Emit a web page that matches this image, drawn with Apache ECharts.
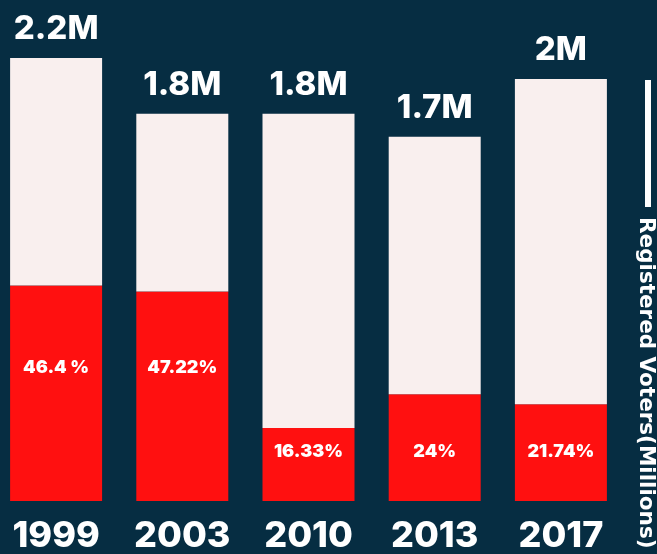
<!DOCTYPE html>
<html><head><meta charset="utf-8">
<script src="https://cdn.jsdelivr.net/npm/echarts@6/dist/echarts.min.js"></script>
<style>html,body{margin:0;padding:0;background:#062d42;overflow:hidden}#c{position:relative;left:-7px;width:664px;height:554px}</style>
</head><body><div id="c"></div>
<script>
// Data (millions)
const years = ['1999', '2003', '2010', '2013', '2017'];
const registeredVoters = [2.2, 1.923, 1.923, 1.809, 2.096];   // bar length
const turnoutVoters = [1.07, 1.041, 0.362, 0.53, 0.481];      // red segment length
const registeredLabels = ['2.2M', '1.8M', '1.8M', '1.7M', '2M'];
const turnoutLabels = ['46.4 %', '47.22%', '16.33%', '24%', '21.74%'];

// styling: how far above the baseline each percent label sits (px)
const pctLift = [124, 124, 40, 40, 40];

const remaining = registeredVoters.map((v, i) => +(v - turnoutVoters[i]).toFixed(3));
const FONT = 'Inter';

const chart = echarts.init(document.getElementById('c'));
chart.setOption({
  backgroundColor: '#062d42',
  animation: false,
  grid: { left: 0, right: 33, top: 58, bottom: 52 },
  xAxis: {
    type: 'category', data: years,
    axisLine: { show: false }, axisTick: { show: false },
    axisLabel: { interval: 0, color: '#ffffff', fontFamily: FONT, fontWeight: 800, fontSize: 36, margin: 17 }
  },
  yAxis: { type: 'value', min: 0, max: 2.2, show: false, splitLine: { show: false } },
  series: [
    {
      type: 'bar', stack: 'v', barWidth: 92,
      itemStyle: { color: '#ff1010' },
      data: turnoutVoters.map((v, i) => ({
        value: v,
        label: {
          show: true, position: 'insideBottom', distance: pctLift[i],
          formatter: turnoutLabels[i],
          color: '#ffffff', fontFamily: FONT, fontWeight: 900, fontSize: 18
        }
      }))
    },
    {
      type: 'bar', stack: 'v', barWidth: 92,
      itemStyle: { color: '#f9efee' },
      data: remaining.map((v, i) => ({
        value: v,
        label: {
          show: true, position: 'top', distance: 12,
          formatter: registeredLabels[i],
          color: '#ffffff', fontFamily: FONT, fontWeight: 800, fontSize: 33
        }
      }))
    }
  ],
  graphic: [
    { type: 'rect', shape: { x: 652, y: 80, width: 6, height: 127 }, style: { fill: '#ffffff' } },
    {
      type: 'text', x: 653, y: 217, rotation: -Math.PI / 2,
      style: {
        text: 'Registered Voters(Millions)', fill: '#ffffff',
        font: 'bold 21.5px "DejaVu Sans"', textAlign: 'left', textVerticalAlign: 'middle'
      }
    }
  ]
});
</script></body></html>
